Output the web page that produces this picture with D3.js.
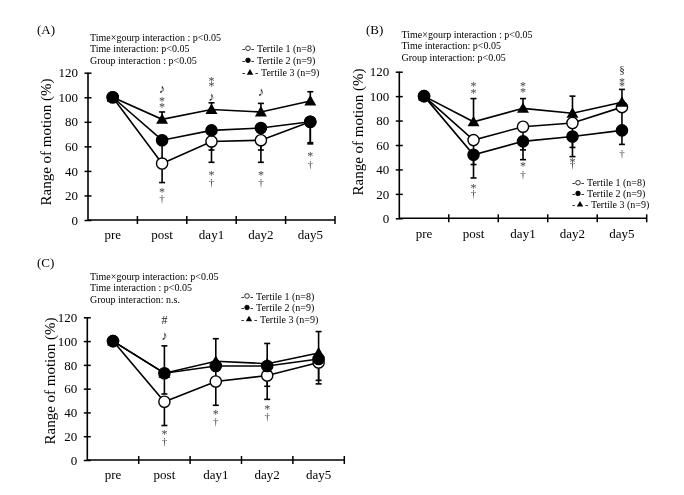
<!DOCTYPE html>
<html>
<head>
<meta charset="utf-8">
<script src="https://cdnjs.cloudflare.com/ajax/libs/d3/7.8.5/d3.min.js"></script>
<style>
  body { margin: 0; background: #fff; }
  svg { display: block; will-change: transform; }
  text { font-family: 'Liberation Serif', 'Times New Roman', serif; }
</style>
</head>
<body>
<div id="chart"></div>
<script>
// constants
const w = 684,
      h = 495;

// data
const categories = ["pre", "post", "day1", "day2", "day5"];
const yTicks = [0, 20, 40, 60, 80, 100, 120];
const seriesNames = ["Tertile 1 (n=8)", "Tertile 2 (n=9)", "Tertile 3 (n=9)"];

// (A)
const aT1 = [100, 46, 64, 65, 80],  aT1sd = [0, 15.5, 17, 18, 17];
const aT2 = [100, 65, 73, 75, 80],  aT2sd = [0, 18, 16, 18, 18];
const aT3 = [100, 82, 90, 88, 97],  aT3sd = [0, 6, 5.5, 7, 7.5];
const aStats = ["Time×gourp interaction : p<0.05", "Time interaction: p<0.05", "Group interaction : p<0.05"];
const aMarks = [["post", "♪", 108], ["post", "*", 99], ["post", "*", 94], ["post", "*", 25], ["post", "†", 17],
                ["day1", "*", 115.7], ["day1", "*", 111.6], ["day1", "♪", 101], ["day1", "*", 39], ["day1", "†", 30],
                ["day2", "♪", 105], ["day2", "*", 39], ["day2", "†", 30],
                ["day5", "*", 54], ["day5", "†", 45]];

// (B)
const bT1 = [100, 64, 75, 78, 91],  bT1sd = [0, 20, 19, 20, 20];
const bT2 = [100, 52, 63, 67, 72],  bT2sd = [0, 19, 15, 16.5, 11.5];
const bT3 = [100, 79, 90, 86, 95],  bT3sd = [0, 19, 8, 14, 10.5];
const bStats = ["Time×gourp interaction : p<0.05", "Time interaction: p<0.05", "Group interaction: p<0.05"];
const bMarks = [["post", "*", 110.7], ["post", "*", 105], ["post", "*", 27], ["post", "†", 20.5],
                ["day1", "*", 110.7], ["day1", "*", 105.8], ["day1", "*", 45], ["day1", "†", 35.5],
                ["day2", "*", 48.5], ["day2", "†", 43.5],
                ["day5", "§", 121.4], ["day5", "*", 114], ["day5", "*", 110.7], ["day5", "†", 52.6]];

// (C)
const cT1 = [100, 49, 66, 71, 82],  cT1sd = [0, 20, 20, 20, 18];
const cT2 = [100, 73, 79, 79, 85],  cT2sd = [0, 17.5, 14, 17, 18];
const cT3 = [100, 73, 83, 81, 90],  cT3sd = [0, 23, 19, 17, 18];
const cStats = ["Time×gourp interaction: p<0.05", "Time interaction : p<0.05", "Group interaction: n.s."];
const cMarks = [["post", "#", 117.7], ["post", "♪", 105], ["post", "*", 23.8], ["post", "†", 15],
                ["day1", "*", 40.6], ["day1", "†", 32.2],
                ["day2", "*", 44.8], ["day2", "†", 36.4]];

// panel layout (pixels)
const panels = [
  { label: "(A)", lx: 37, ly: 34, x0: 88, x1: 335, yb: 220, yt: 72.7,
    title: [46, 142], stats: aStats, sx: 90, sy: 40.5, sdy: 11.8,
    legX: 242, legY: 48.3, legDy: 12,
    series: [[aT1, aT1sd], [aT2, aT2sd], [aT3, aT3sd]], marks: aMarks },
  { label: "(B)", lx: 366, ly: 34, x0: 399.3, x1: 646.7, yb: 218.3, yt: 71.7,
    title: [358, 132], stats: bStats, sx: 401.5, sy: 37.5, sdy: 11.5,
    legX: 572, legY: 182.7, legDy: 10.7,
    series: [[bT1, bT1sd], [bT2, bT2sd], [bT3, bT3sd]], marks: bMarks },
  { label: "(C)", lx: 37, ly: 267, x0: 87.3, x1: 344.3, yb: 460, yt: 317.3,
    title: [50, 381], stats: cStats, sx: 90, sy: 279.5, sdy: 11.8,
    legX: 241, legY: 296, legDy: 11.5,
    series: [[cT1, cT1sd], [cT2, cT2sd], [cT3, cT3sd]], marks: cMarks }
];

const dirs = [-1, -1, 1];            // error bar direction per series
const drawOrder = [0, 2, 1];         // marker stacking: T1, T3, T2
const symOffset = { "*": 0.55, "†": 0.3, "♪": 0.4, "§": 0.3, "#": 0.33 };
const symSize = { "*": 12, "†": 11, "♪": 13, "§": 11, "#": 12 };

let chart = d3.select("#chart")
              .append("svg")
              .attr("width", w)
              .attr("height", h);

function marker(sel, i, cx, cy, small) {
  if (i === 2) {
    sel.append("path")
       .attr("d", d3.symbol(d3.symbolTriangle, small ? 18 : 62)())
       .attr("transform", `translate(${cx},${cy + (small ? 0.5 : 1)})`)
       .attr("fill", "#000");
  } else {
    sel.append("circle")
       .attr("cx", cx).attr("cy", cy)
       .attr("r", small ? 2.3 : 5.6)
       .attr("fill", i === 0 ? "#fff" : "#000")
       .attr("stroke", "#000")
       .attr("stroke-width", small ? 0.8 : 1.4);
  }
}

function drawPanel(p) {
  const g = chart.append("g");
  const x = d3.scaleBand().domain(categories).range([p.x0, p.x1]);
  const y = d3.scaleLinear().domain([0, 120]).range([p.yb, p.yt]);
  const cx = (c) => x(c) + x.bandwidth() / 2;

  // panel label
  g.append("text").attr("x", p.lx).attr("y", p.ly)
   .attr("font-size", 13).text(p.label);

  // stats text
  g.selectAll(".stat").data(p.stats).enter().append("text")
   .attr("x", p.sx).attr("y", (d, i) => p.sy + i * p.sdy)
   .attr("font-size", 10).text((d) => d);

  // y axis
  let yAxis = d3.axisLeft(y).tickValues(yTicks).tickSize(3).tickPadding(7);
  let gy = g.append("g").attr("transform", `translate(${p.x0},0)`).call(yAxis);
  gy.attr("font-family", null);
  gy.select(".domain").remove();
  gy.selectAll(".tick line").attr("x1", -3.5).attr("x2", 3.5).attr("stroke-width", 1.5);
  gy.selectAll(".tick text").attr("font-size", 13).attr("fill", "#000");
  g.append("line").attr("x1", p.x0).attr("x2", p.x0).attr("y1", p.yb).attr("y2", p.yt)
   .attr("stroke", "#000").attr("stroke-width", 1.6);

  // x axis
  let xAxis = d3.axisBottom(x).tickSize(0).tickPadding(10);
  let gx = g.append("g").attr("transform", `translate(0,${p.yb})`).call(xAxis);
  gx.attr("font-family", null);
  gx.select(".domain").remove();
  gx.selectAll(".tick text").attr("font-size", 13).attr("fill", "#000");
  g.append("line").attr("x1", p.x0).attr("x2", p.x1).attr("y1", p.yb).attr("y2", p.yb)
   .attr("stroke", "#000").attr("stroke-width", 1.6);
  g.selectAll(".xt").data(categories.slice(1).map((c) => x(c)).concat([p.x1])).enter()
   .append("line")
   .attr("x1", (d) => d).attr("x2", (d) => d)
   .attr("y1", p.yb - 4).attr("y2", p.yb + 4)
   .attr("stroke", "#000").attr("stroke-width", 1.5);

  // y title
  g.append("text")
   .attr("transform", `translate(${p.title[0]},${p.title[1]}) rotate(-90)`)
   .attr("text-anchor", "middle").attr("dominant-baseline", "central")
   .attr("font-size", 15).text("Range of motion  (%)");

  // lines
  const line = d3.line().x((d, i) => cx(categories[i])).y((d) => y(d));
  p.series.forEach((s) => {
    g.append("path").attr("d", line(s[0]))
     .attr("fill", "none").attr("stroke", "#000").attr("stroke-width", 1.6);
  });

  // error bars
  p.series.forEach((s, k) => {
    s[0].forEach((v, i) => {
      if (!s[1][i]) return;
      const xx = cx(categories[i]);
      const yEnd = y(v + dirs[k] * s[1][i]);
      g.append("line").attr("x1", xx).attr("x2", xx).attr("y1", y(v)).attr("y2", yEnd)
       .attr("stroke", "#000").attr("stroke-width", 1.6);
      g.append("line").attr("x1", xx - 3).attr("x2", xx + 3).attr("y1", yEnd).attr("y2", yEnd)
       .attr("stroke", "#000").attr("stroke-width", 1.6);
    });
  });

  // markers
  drawOrder.forEach((k) => {
    p.series[k][0].forEach((v, i) => marker(g, k, cx(categories[i]), y(v), false));
  });

  // significance marks
  p.marks.forEach((m) => {
    const fs = symSize[m[1]];
    g.append("text")
     .attr("x", cx(m[0])).attr("y", y(m[2]) + symOffset[m[1]] * fs)
     .attr("text-anchor", "middle").attr("font-size", fs)
     .attr("fill", (m[1] === "*" || m[1] === "†") ? "#444" : "#222")
     .text(m[1]);
  });

  // legend
  seriesNames.forEach((name, k) => {
    const ly = p.legY + k * p.legDy;
    const gap = k === 2 ? 2 : 0;
    g.append("text").attr("x", p.legX).attr("y", ly + 3.5).attr("font-size", 10).text("-");
    marker(g, k, p.legX + 6 + gap, ly, true);
    g.append("text").attr("x", p.legX + 9 + gap * 2).attr("y", ly + 3.5).attr("font-size", 10).text("-");
    g.append("text").attr("x", p.legX + 15 + gap * 2).attr("y", ly + 3.5).attr("font-size", 10).text(name);
  });
}

panels.forEach(drawPanel);
</script>
</body>
</html>
